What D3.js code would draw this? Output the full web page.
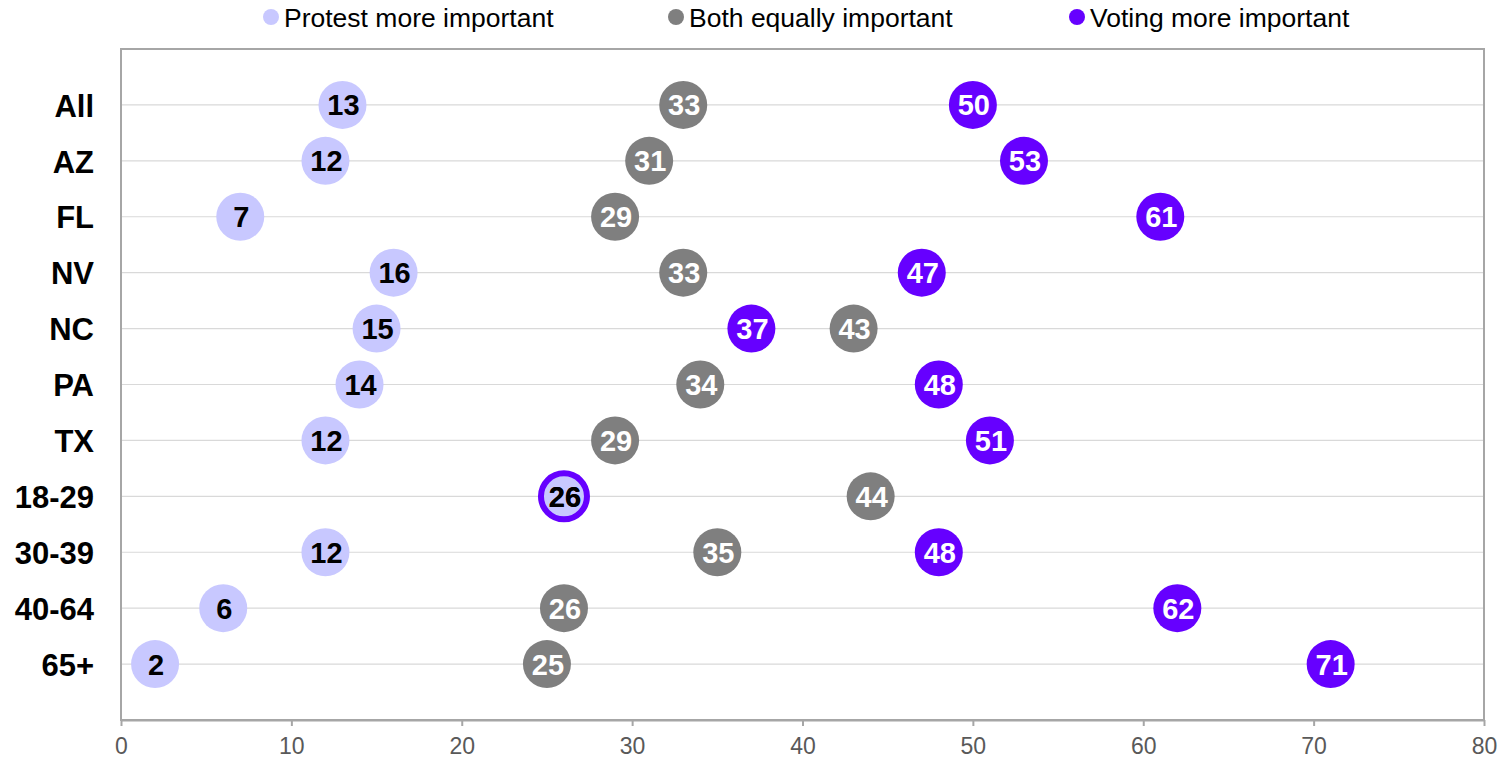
<!DOCTYPE html>
<html><head><meta charset="utf-8">
<script src="https://cdn.jsdelivr.net/npm/d3@7"></script>
<style>html,body{margin:0;padding:0;background:#fff;}svg{display:block;font-family:"Liberation Sans",Arial,sans-serif;}</style>
</head><body>
<svg id="chart" width="1505" height="759"></svg>
<script>
const categories = ["All","AZ","FL","NV","NC","PA","TX","18-29","30-39","40-64","65+"];
const protest = [13,12,7,16,15,14,12,26,12,6,2];
const both    = [33,31,29,33,43,34,29,44,35,26,25];
const voting  = [50,53,61,47,37,48,51,26,48,62,71];
const xTicks = [0,10,20,30,40,50,60,70,80];
const seriesNames = ["Protest more important","Both equally important","Voting more important"];
const seriesColors = ["#c8c8ff","#7f7f7f","#6600ff"];
const labelColors = ["#000000","#ffffff","#ffffff"];

(function(){
const svg = d3.select("#chart");
const pLeft = 121, pRight = 1484, pTop = 49, pBottom = 720;
const x = d3.scaleLinear().domain([0,80]).range([pLeft,pRight]);
const y = d3.scalePoint().domain(categories).range([pTop,pBottom]).padding(1);

// gridlines at categories
svg.append("g").selectAll("line").data(categories).join("line")
  .attr("x1",pLeft).attr("x2",pRight)
  .attr("y1",d=>y(d)).attr("y2",d=>y(d))
  .attr("stroke","#d9d9d9").attr("stroke-width",1.2);

// plot border
svg.append("rect").attr("x",pLeft).attr("y",pTop).attr("width",pRight-pLeft).attr("height",pBottom-pTop)
  .attr("fill","none").attr("stroke","#a6a6a6").attr("stroke-width",2);

// x axis
const xAxis = d3.axisBottom(x).tickValues(xTicks).tickSize(6).tickPadding(12).tickSizeOuter(0);
const gx = svg.append("g").attr("transform",`translate(0,${pBottom})`).call(xAxis);
gx.select(".domain").attr("stroke","#a6a6a6").attr("stroke-width",2);
gx.selectAll(".tick line").attr("stroke","#a6a6a6").attr("stroke-width",2);
gx.selectAll(".tick text").attr("fill","#595959").style("font-size","23px")
  .style("font-family","Liberation Sans, Arial, sans-serif");

// y category labels
const yAxis = d3.axisLeft(y).tickSize(0).tickPadding(27);
const gy = svg.append("g").attr("transform",`translate(${pLeft},0)`).call(yAxis);
gy.select(".domain").remove();
gy.selectAll(".tick text").attr("fill","#000").style("font-size","31px").style("font-weight","bold")
  .style("font-family","Liberation Sans, Arial, sans-serif").attr("dy","0.36em");

// data points
const series = [protest, both, voting];
const pts = [];
series.forEach((vals,si)=>{
  vals.forEach((v,i)=>{
    const overlapProtest = si===2 && v===protest[i];
    pts.push({si, cat:categories[i], v, ring:overlapProtest});
  });
});
const R = 24;
const g = svg.append("g");
pts.forEach(p=>{
  if(p.ring){
    g.append("circle").attr("cx",x(p.v)).attr("cy",y(p.cat)).attr("r",R-1)
      .attr("fill",seriesColors[0]).attr("stroke",seriesColors[2]).attr("stroke-width",6);
  } else {
    g.append("circle").attr("cx",x(p.v)).attr("cy",y(p.cat)).attr("r",R)
      .attr("fill",seriesColors[p.si]);
  }
});
pts.forEach(p=>{
  g.append("text").attr("x",x(p.v)+1).attr("y",y(p.cat)).attr("dy","0.36em")
    .attr("text-anchor","middle").style("font-size","29px").style("font-weight","bold")
    .attr("fill",p.ring?labelColors[0]:labelColors[p.si]).text(p.v);
});

// legend
const legendX = [271, 676, 1077];
const lg = svg.append("g");
seriesNames.forEach((n,i)=>{
  lg.append("circle").attr("cx",legendX[i]).attr("cy",17).attr("r",8).attr("fill",seriesColors[i]);
  lg.append("text").attr("x",legendX[i]+13).attr("y",27).style("font-size","26.5px")
    .attr("fill","#000").text(n);
});
})();
</script>
</body></html>
